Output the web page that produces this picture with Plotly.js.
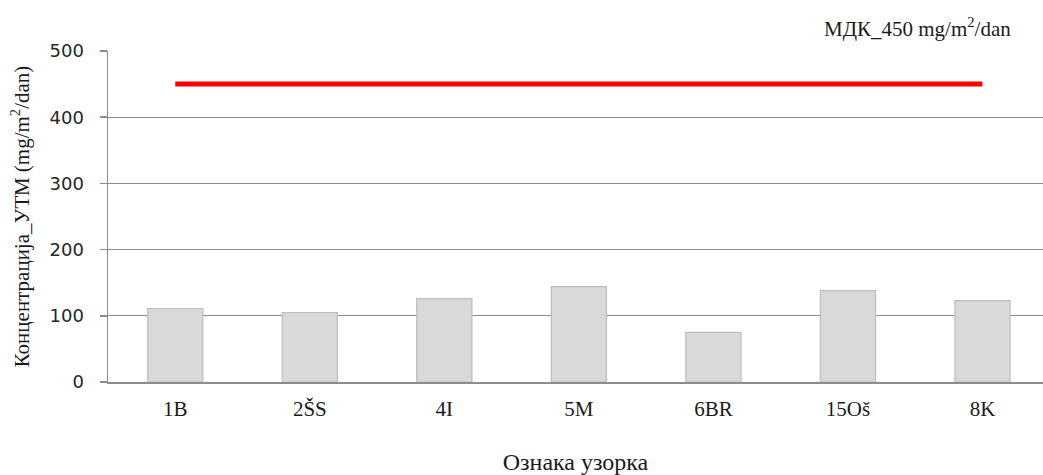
<!DOCTYPE html>
<html><head><meta charset="utf-8">
<script src="https://cdn.plot.ly/plotly-3.0.1.min.js"></script>
<style>html,body{margin:0;padding:0;background:#fff}#c{width:1043px;height:475px}</style>
</head><body><div id="c"></div>
<script>
const categories = ["1B", "2ŠS", "4I", "5M", "6BR", "15Oš", "8K"];
const concentrations = [111, 105, 126, 144, 75, 138, 123];
const limitValue = 450;
const limitLabel = "МДК_450 mg/m<sup>2</sup>/dan";
const yTickValues = [0, 100, 200, 300, 400, 500];
const xTitle = "Ознака узорка";
const yTitle = "Концентрација_УТМ (mg/m<sup>2</sup>/dan)";

const serif = "Liberation Serif, Times New Roman, serif";

const traces = [
  {
    type: "bar", x: categories, y: concentrations,
    marker: {color: "#d9d9d9", line: {color: "#bdbdbd", width: 1.2}},
    hoverinfo: "skip", showlegend: false
  },
  {
    type: "scatter", mode: "lines",
    x: [categories[0], categories[categories.length - 1]],
    y: [limitValue, limitValue],
    line: {color: "#ff0000", width: 5},
    hoverinfo: "skip", showlegend: false
  }
];

const layout = {
  width: 1043, height: 475,
  margin: {l: 108, r: 0, t: 51, b: 92.5, pad: 0},
  paper_bgcolor: "#fff", plot_bgcolor: "#fff",
  bargap: 0.59,
  xaxis: {
    type: "category", range: [-0.5, 6.45],
    showline: true, linecolor: "#8c8c8c", linewidth: 1.5,
    ticks: "", showgrid: false, zeroline: false,
    tickfont: {family: serif, size: 21, color: "#1a1a1a"},
    ticklabelstandoff: 7,
    title: {text: xTitle, font: {family: serif, size: 24, color: "#1a1a1a"}, standoff: 34}
  },
  yaxis: {
    range: [0, 500], tickvals: yTickValues,
    showline: true, linecolor: "#8c8c8c", linewidth: 1.5,
    ticks: "outside", ticklen: 7, tickcolor: "#8c8c8c", tickwidth: 1.5,
    showgrid: true, gridcolor: "#8c8c8c", gridwidth: 1.2, zeroline: false,
    tickfont: {family: "DejaVu Sans, sans-serif", size: 18, color: "#262626"},
    ticklabelstandoff: 12,
    title: {text: yTitle, font: {family: serif, size: 21, color: "#1a1a1a"}, standoff: 14}
  },
  annotations: [{
    text: limitLabel, xref: "paper", yref: "paper",
    x: 0.866, y: 1.0, yshift: 8, xanchor: "center", yanchor: "bottom",
    showarrow: false,
    font: {family: serif, size: 21, color: "#1a1a1a"}
  }]
};

Plotly.newPlot("c", traces, layout, {displayModeBar: false, staticPlot: true});
</script></body></html>
